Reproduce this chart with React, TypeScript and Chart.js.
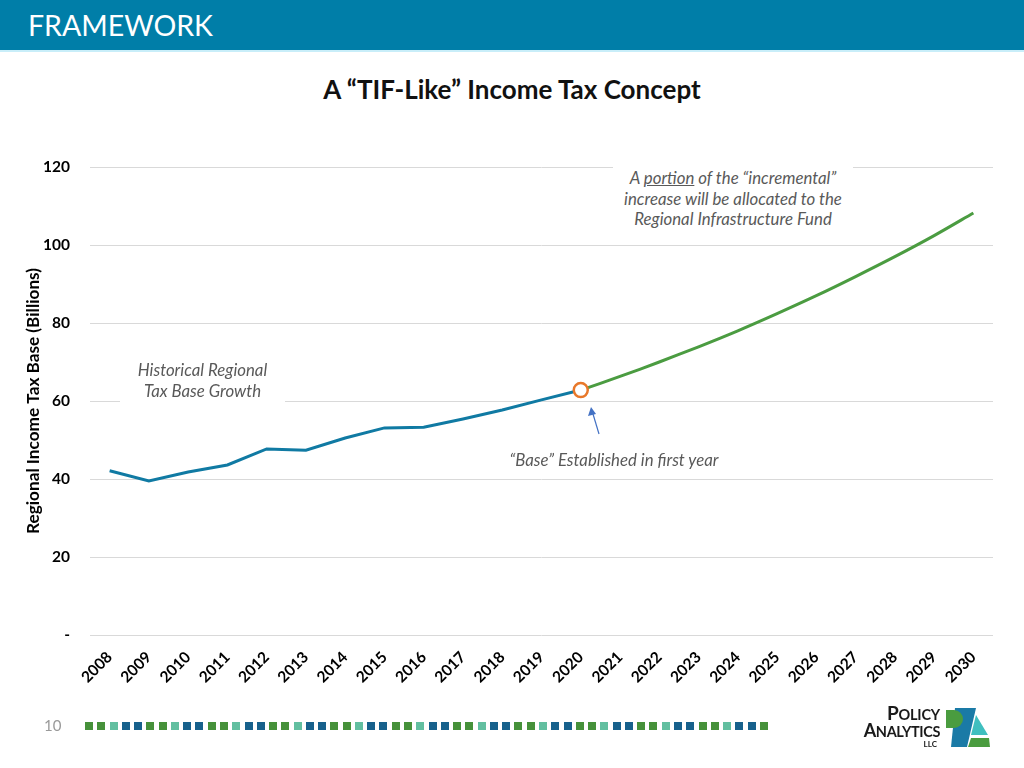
import React, { useEffect, useRef } from "react";
import { Chart, registerables } from "chart.js";

Chart.register(...registerables);

const years = [
  "2008", "2009", "2010", "2011", "2012", "2013", "2014", "2015", "2016", "2017", "2018", "2019",
  "2020", "2021", "2022", "2023", "2024", "2025", "2026", "2027", "2028", "2029", "2030",
];
const historical: (number | null)[] = [
  42.1, 39.5, 41.8, 43.6, 47.7, 47.4, 50.5, 53.1, 53.3, 55.4, 57.7, 60.3, 62.8,
  null, null, null, null, null, null, null, null, null, null,
];
const projected: (number | null)[] = [
  null, null, null, null, null, null, null, null, null, null, null, null,
  62.8, 66.3, 70.0, 73.9, 78.0, 82.4, 87.0, 91.9, 97.0, 102.4, 108.2,
];
const baseYear = "2020";
const baseValue = 62.8;
const yTickValues = [0, 20, 40, 60, 80, 100, 120];

const footerPattern = ["g", "g", "t", "b", "b"];
const footerColors: Record<string, string> = { g: "#46913a", t: "#62bfa0", b: "#17618c" };

const FONT = "Lato, 'Open Sans', sans-serif";

export default function App() {
  const canvasRef = useRef<HTMLCanvasElement | null>(null);

  useEffect(() => {
    if (!canvasRef.current) return;
    const basePoint = years.map((y) => (y === baseYear ? baseValue : null));
    const chart = new Chart(canvasRef.current, {
      type: "line",
      data: {
        labels: years,
        datasets: [
          {
            label: "Base",
            data: basePoint,
            borderColor: "#e8782a",
            backgroundColor: "#ffffff",
            pointRadius: 7,
            pointBorderWidth: 2.5,
            pointBackgroundColor: "#ffffff",
            pointBorderColor: "#e8782a",
            showLine: false,
          },
          {
            label: "Historical",
            data: historical,
            borderColor: "#107aa3",
            borderWidth: 3,
            pointRadius: 0,
            tension: 0,
            spanGaps: false,
          },
          {
            label: "Projected",
            data: projected,
            borderColor: "#4b9c41",
            borderWidth: 3,
            pointRadius: 0,
            tension: 0.3,
            spanGaps: false,
          },
        ],
      },
      options: {
        animation: false,
        responsive: false,
        maintainAspectRatio: false,
        layout: { padding: { top: 167, right: 31, left: 0, bottom: 0 } },
        plugins: { legend: { display: false }, tooltip: { enabled: false }, title: { display: false } },
        scales: {
          x: {
            offset: true,
            grid: { display: false },
            border: { display: false },
            ticks: {
              minRotation: 45,
              maxRotation: 45,
              autoSkip: false,
              padding: 5,
              color: "#000000",
              font: { family: FONT, size: 15.5, weight: "bold" },
            },
            afterFit: (scale: any) => {
              scale.height = 133;
            },
          },
          y: {
            min: 0,
            max: 120,
            afterBuildTicks: (scale: any) => {
              scale.ticks = yTickValues.map((v) => ({ value: v }));
            },
            grid: { color: "#d9d9d9", lineWidth: 1, drawTicks: false },
            border: { display: false },
            ticks: {
              padding: 20,
              color: "#000000",
              font: { family: FONT, size: 15.5, weight: "bold" },
              callback: (v: any) => (Number(v) === 0 ? "-" : String(v)),
            },
            title: {
              display: true,
              text: "Regional Income Tax Base (Billions)",
              color: "#000000",
              padding: { top: 23, bottom: 0 },
              font: { family: FONT, size: 17.2, weight: "bold" },
            },
            afterFit: (scale: any) => {
              scale.width = 90;
            },
          },
        },
      },
    });
    return () => chart.destroy();
  }, []);

  const squares = [];
  for (let i = 0; i < 56; i++) {
    squares.push(
      <div
        key={i}
        style={{
          position: "absolute",
          left: 85 + i * 12.27,
          top: 722,
          width: 8,
          height: 8,
          background: footerColors[footerPattern[i % 5]],
        }}
      />
    );
  }

  const annot: React.CSSProperties = {
    position: "absolute",
    background: "#ffffff",
    color: "#595959",
    fontStyle: "italic",
    fontFamily: FONT,
    fontSize: 16.8,
    lineHeight: "20.5px",
    textAlign: "center",
  };

  return (
    <div style={{ position: "absolute", left: 0, top: 0, width: 1024, height: 768, background: "#ffffff", overflow: "hidden" }}>
      <div style={{ position: "absolute", left: 0, top: 0, width: 1024, height: 50, background: "#007ea8" }} />
      <div style={{ position: "absolute", left: 0, top: 50, width: 1024, height: 2, background: "#c9eef9" }} />
      <div style={{ position: "absolute", left: 28, top: 6, color: "#ffffff", fontFamily: FONT, fontSize: 28.5, lineHeight: "38px" }}>
        FRAMEWORK
      </div>
      <div style={{ position: "absolute", left: 0, top: 72, width: 1024, textAlign: "center", color: "#111111", fontFamily: FONT, fontWeight: "bold", fontSize: 26, lineHeight: "34px" }}>
        A “TIF-Like” Income Tax Concept
      </div>
      <canvas ref={canvasRef} width={1024} height={768} style={{ position: "absolute", left: 0, top: 0, width: 1024, height: 768 }} />
      <div style={{ ...annot, left: 613, top: 162, width: 240, paddingTop: 6, paddingBottom: 4 }}>
        A <span style={{ textDecoration: "underline" }}>portion</span> of the “incremental”
        <br />
        increase will be allocated to the
        <br />
        Regional Infrastructure Fund
      </div>
      <div style={{ ...annot, left: 120, top: 360, width: 165, paddingBottom: 3 }}>
        Historical Regional
        <br />
        Tax Base Growth
      </div>
      <div style={{ ...annot, left: 494, top: 450, width: 240 }}>“Base” Established in first year</div>
      <svg style={{ position: "absolute", left: 0, top: 0 }} width={1024} height={768}>
        <line x1={599} y1={434} x2={593} y2={414} stroke="#4472c4" strokeWidth={1.2} />
        <polygon points="591,407 588,416 596,414" fill="#4472c4" />
      </svg>
      <div style={{ position: "absolute", left: 44, top: 715, color: "#9a9a9a", fontFamily: FONT, fontSize: 15, lineHeight: "20px" }}>10</div>
      {squares}
      <div style={{ position: "absolute", left: 840, top: 704, width: 100, textAlign: "right", color: "#1a1a1a", fontFamily: FONT, fontWeight: "bold" }}>
        <div style={{ fontSize: 19, lineHeight: "17px", letterSpacing: -0.2 }}>P<span style={{ fontSize: 14.5 }}>OLICY</span></div>
        <div style={{ fontSize: 18, lineHeight: "15px", letterSpacing: -0.4 }}>A<span style={{ fontSize: 14.5 }}>NALYTICS</span></div>
        <div style={{ fontSize: 8, lineHeight: "10px", paddingRight: 3 }}>LLC</div>
      </div>
      <svg style={{ position: "absolute", left: 944, top: 706 }} width={48} height={44}>
        <polygon points="11,2 32,2 23,41 7,41" fill="#1a7aa6" />
        <path d="M2,4 L10,4 A9,9 0 0 1 10,22 L2,22 Z" fill="#4a9c3f" />
        <polygon points="32,9 44,29 27,29" fill="#3fbfbf" />
        <polygon points="27,32 45,32 46,41 24,41" fill="#4a9c3f" />
      </svg>
    </div>
  );
}
